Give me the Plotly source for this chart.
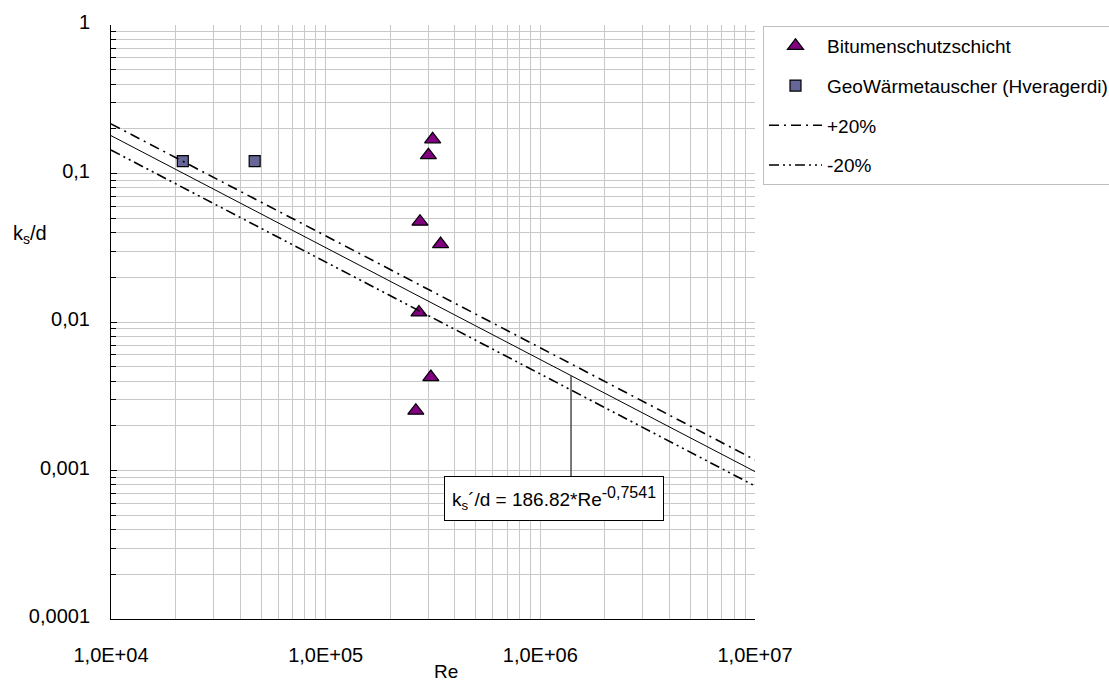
import plotly.graph_objects as go

# ---- data ----
re_bitumen = [3.15e5, 3.01e5, 2.75e5, 3.43e5, 2.72e5, 3.09e5, 2.63e5]
ks_bitumen = [0.170, 0.133, 0.0474, 0.0335, 0.0116, 0.00426, 0.00253]

re_geo = [2.16e4, 4.67e4]
ks_geo = [0.121, 0.121]

fit_coef = 186.82
fit_exp = -0.7541
fit_re = [1.0e4, 1.0e7]
band_factors = {"+20%": 1.2, "-20%": 0.8}

leader_re = 1.39e6
leader_bottom = 9.04e-4

x_tickvals = [1e4, 1e5, 1e6, 1e7]
x_ticktext = ["1,0E+04", "1,0E+05", "1,0E+06", "1,0E+07"]
y_tickvals = [1e-4, 1e-3, 1e-2, 1e-1, 1]
y_ticktext = ["0,0001", "0,001", "0,01", "0,1", "1"]

minor_x = [m * 10 ** e for e in range(4, 7) for m in range(2, 10)]
minor_y = [m * 10 ** e for e in range(-4, 0) for m in range(2, 10)]

FONT = "Liberation Sans, Arial, sans-serif"

fit_vals = [fit_coef * r ** fit_exp for r in fit_re]

fig = go.Figure()

fig.add_trace(go.Scatter(
    x=re_bitumen, y=ks_bitumen, mode="markers", name="Bitumenschutzschicht",
    legendgroup="a",
    marker=dict(symbol="triangle-up", size=14, color="#800080",
                line=dict(color="black", width=1.2)),
))
fig.add_trace(go.Scatter(
    x=re_geo, y=ks_geo, mode="markers", name="GeoWärmetauscher (Hveragerdi)",
    legendgroup="b",
    marker=dict(symbol="square", size=11, color="#666699",
                line=dict(color="black", width=1.2)),
))
fig.add_trace(go.Scatter(
    x=fit_re, y=[v * band_factors["+20%"] for v in fit_vals], mode="lines",
    name="+20%", legendgroup="c",
    line=dict(color="black", width=1.6, dash="10px,5px,2px,5px"),
))
fig.add_trace(go.Scatter(
    x=fit_re, y=[v * band_factors["-20%"] for v in fit_vals], mode="lines",
    name="-20%", legendgroup="d",
    line=dict(color="black", width=1.6, dash="10px,4px,2px,4px,2px,4px"),
))
fig.add_trace(go.Scatter(
    x=fit_re, y=fit_vals, mode="lines", showlegend=False,
    line=dict(color="black", width=1),
))
fig.add_trace(go.Scatter(
    x=[leader_re, leader_re], y=[fit_coef * leader_re ** fit_exp, leader_bottom],
    mode="lines", showlegend=False, line=dict(color="#4d4d4d", width=1.5),
))

L, R, T, B = 111, 1109 - 755, 25, 684 - 619
PW, PH = 1109 - L - R, 684 - T - B

def px(x):
    return (x - L) / PW

def py(y):
    return (684 - B - y) / PH

fig.update_layout(
    width=1109, height=684,
    margin=dict(l=L, r=R, t=T, b=B, autoexpand=False),
    paper_bgcolor="white", plot_bgcolor="white",
    font=dict(family=FONT, size=19, color="black"),
    showlegend=True,
    legend=dict(
        x=px(763), y=py(26), xanchor="left", yanchor="top",
        bgcolor="white", bordercolor="#bfbfbf", borderwidth=1,
        font=dict(family=FONT, size=19, color="black"),
        tracegroupgap=12, itemwidth=53, traceorder="grouped",
    ),
    xaxis=dict(
        type="log", range=[4, 7], tickmode="array", tickvals=x_tickvals,
        ticktext=x_ticktext, showgrid=True, gridcolor="#c8c8c8", gridwidth=1,
        showline=True, linecolor="black", linewidth=1, ticks="", zeroline=False,
        ticklabelstandoff=18,
        minor=dict(tickmode="array", tickvals=minor_x, showgrid=True,
                   gridcolor="#c8c8c8", gridwidth=1, ticks=""),
        tickfont=dict(family=FONT, size=20, color="black"),
    ),
    yaxis=dict(
        type="log", range=[-4, 0], tickmode="array", tickvals=y_tickvals,
        ticktext=y_ticktext, showgrid=True, gridcolor="#c8c8c8", gridwidth=1,
        showline=True, linecolor="black", linewidth=1, ticks="inside",
        ticklen=6, tickcolor="black", zeroline=False, ticklabelstandoff=16,
        ticklabelshift=-3,
        minor=dict(tickmode="array", tickvals=minor_y, showgrid=True,
                   gridcolor="#c8c8c8", gridwidth=1, ticks="inside", ticklen=5,
                   tickcolor="black"),
        tickfont=dict(family=FONT, size=20, color="black"),
    ),
    annotations=[
        dict(text="k<sub>s</sub>´/d = 186.82*Re<sup><span style=\"font-size:16px\">-0,7541</span></sup>",
             xref="paper", yref="paper", x=px(664), y=py(498),
             xanchor="right", yanchor="middle", showarrow=False,
             bgcolor="white", bordercolor="black", borderwidth=1, borderpad=7,
             font=dict(family=FONT, size=19, color="black")),
        dict(text="k<sub>s</sub>/d", xref="paper", yref="paper",
             x=px(30), y=py(235), xanchor="center", yanchor="middle",
             showarrow=False, font=dict(family=FONT, size=20, color="black")),
        dict(text="Re", xref="paper", yref="paper",
             x=px(446), y=0, yshift=-(684 - 619), xanchor="center", yanchor="bottom",
             showarrow=False, font=dict(family=FONT, size=19, color="black")),
    ],
)

fig.write_html("out.html", config={"displayModeBar": False},
               post_script="document.body.style.margin='0px';")
